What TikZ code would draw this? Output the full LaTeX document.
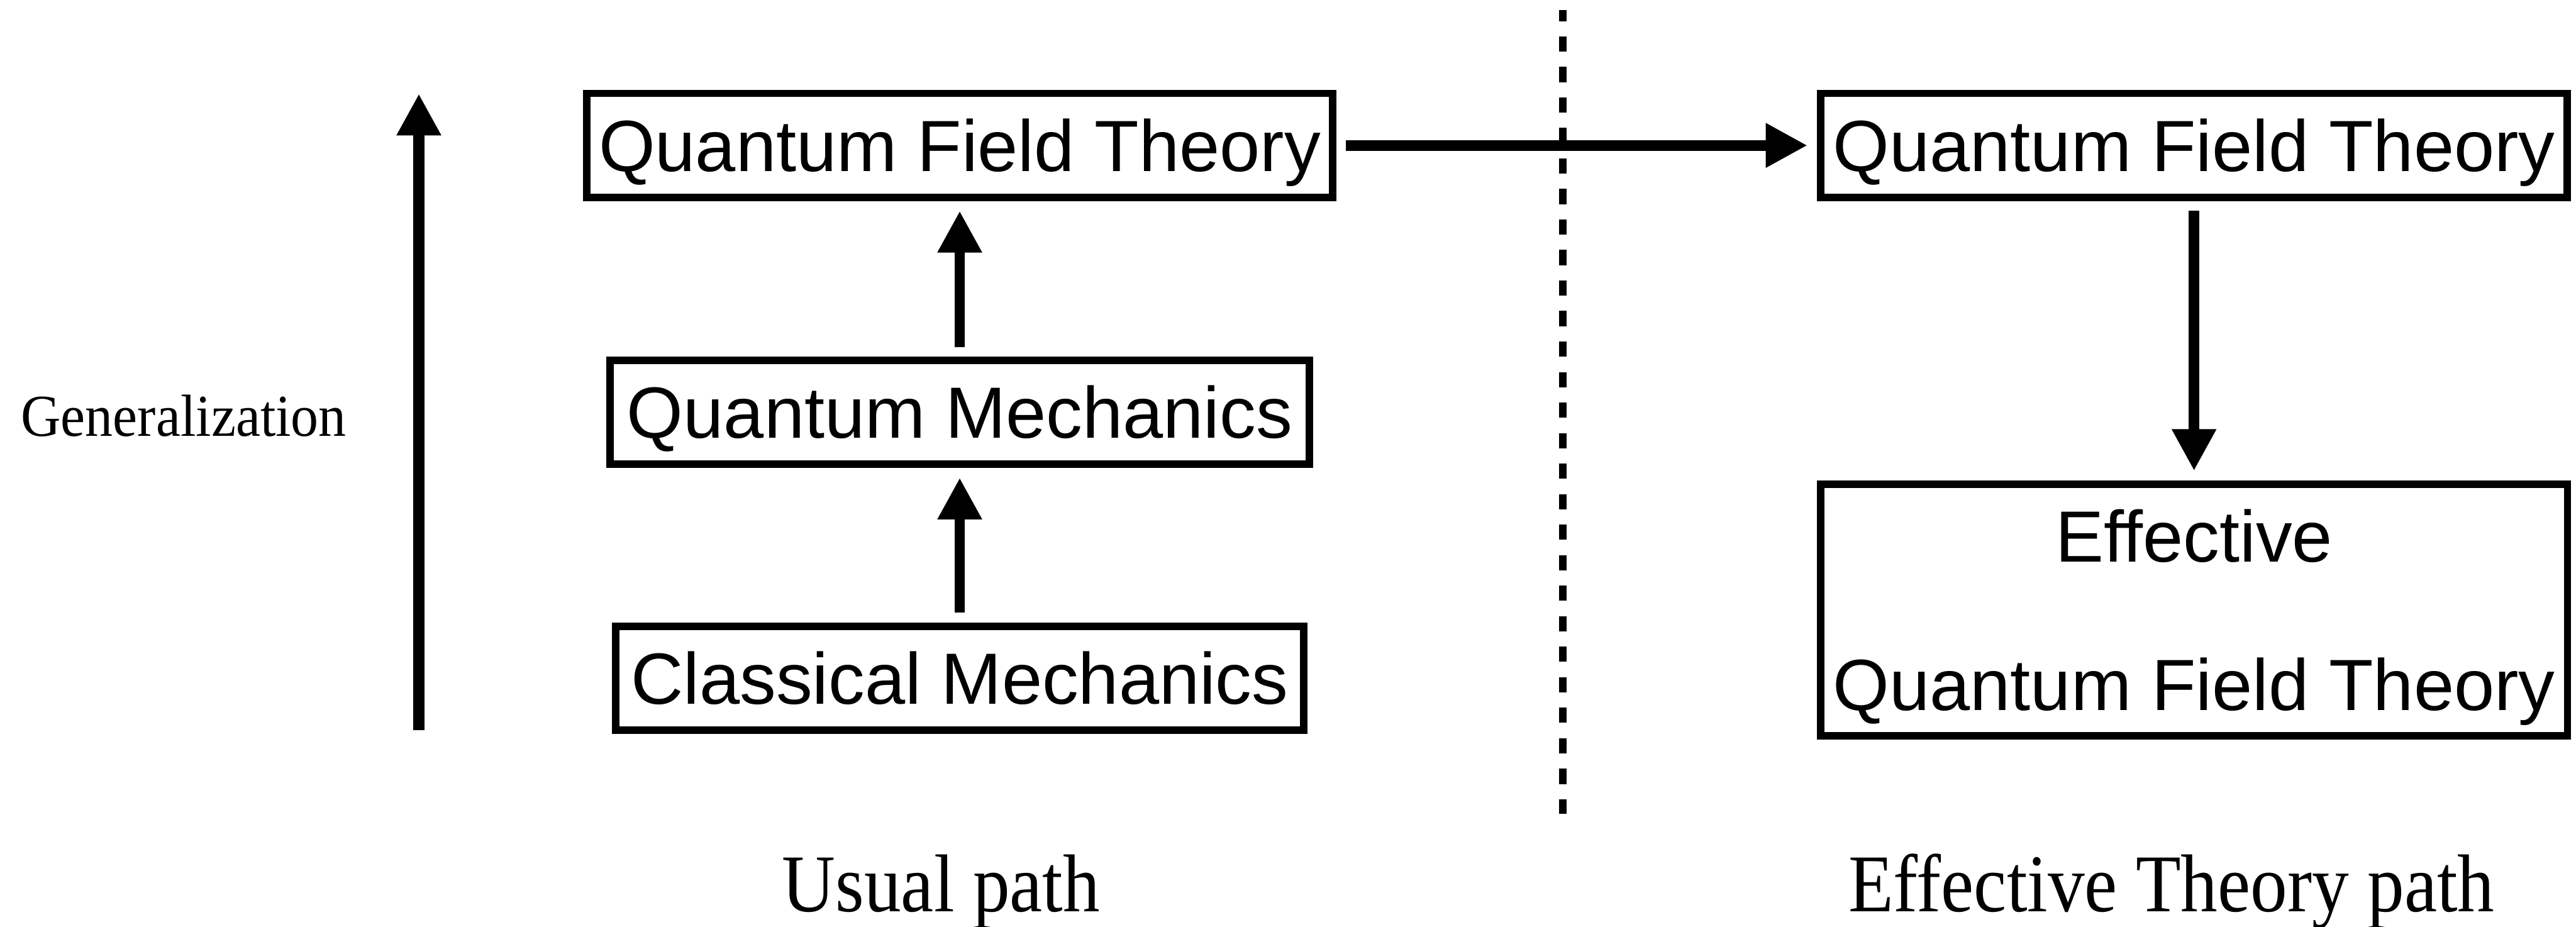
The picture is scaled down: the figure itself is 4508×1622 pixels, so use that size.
\documentclass[tikz,border=0pt]{standalone}
\usepackage{fontspec}
\usepackage{graphicx}
\usetikzlibrary{arrows.meta}
\newfontfamily\boxfont{Liberation Sans}
\newfontfamily\serfont{Liberation Serif}
\begin{document}
\begin{tikzpicture}[x=0.1pt,y=-0.1pt,
  theorybox/.style={draw, line width=1.3pt, inner sep=1pt, outer sep=0.65pt,
    minimum height=18.2pt, font=\boxfont\fontsize{12.7pt}{26pt}\selectfont,
    text height=9.1pt, text depth=0pt},
  flow/.style={line width=1.85pt, -{Triangle[length=7.3pt,width=7.3pt]},
    shorten <=1.7pt, shorten >=1.7pt},
  pathlabel/.style={inner sep=0pt, anchor=base,
    font=\serfont\fontsize{14.35pt}{17pt}\selectfont},
  divider/.style={line width=1.3pt, dash pattern=on 2.67pt off 2.67pt, dash phase=0.77pt},
]
\useasboundingbox (0,0) rectangle (4508,1622);

% left column
\node[theorybox, minimum width=130.5pt] (qftL) at (1679.5,254.5) {Quantum Field Theory};
\node[theorybox, minimum width=122.4pt] (qm) at (1679.5,721.5) {Quantum Mechanics};
\node[theorybox, minimum width=120.4pt] (cm) at (1679.5,1187) {Classical Mechanics};

% right column
\node[theorybox, minimum width=130.6pt] (qftR) at (3839.5,254.5) {Quantum Field Theory};
\node[theorybox, minimum width=130.7pt, minimum height=44pt, text height=35.1pt, text depth=0pt]
  (eqft) at (3839.5,1067.5)
  {\vbox{\baselineskip=26pt\halign{\hfil#\hfil\cr Effective\cr Quantum Field Theory\cr}}};

% dashed divider
\coordinate (dTop) at (2734.5,18);
\coordinate (dBot) at (2734.5,1424);
\draw[divider] (dTop) -- (dBot);

% connectors
\draw[flow] (cm.north) -- (qm.south);
\draw[flow] (qm.north) -- (qftL.south);
\draw[flow] (qftL.east) -- (qftR.west);
\draw[flow] (qftR.south) -- (eqft.north);

% generalization arrow
\coordinate (gBot) at (733,1278);
\coordinate (gTop) at (733,164);
\draw[line width=1.9pt, -{Triangle[length=7.3pt,width=7.3pt]}] (gBot) -- (gTop);
\node[inner sep=0pt, anchor=base, font=\serfont\fontsize{10.4pt}{12pt}\selectfont]
  (gen) at (321.5,763) {\scalebox{0.93}[1]{Generalization}};

% bottom labels
\node[pathlabel] (usual) at (1647,1595) {\scalebox{0.9}[1]{Usual path}};
\node[pathlabel] (eff) at (3800,1595) {\scalebox{0.9}[1]{Effective Theory path}};
\end{tikzpicture}
\end{document}
